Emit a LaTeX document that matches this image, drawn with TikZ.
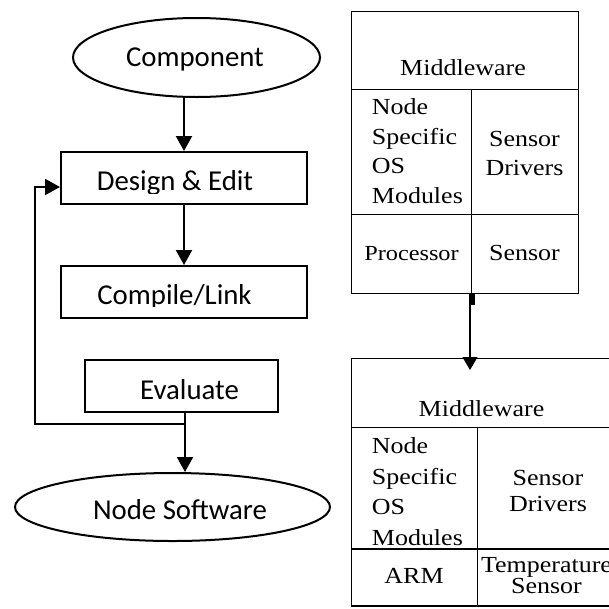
\documentclass[tikz,border=0pt]{standalone}
\usepackage{fontspec}
\newfontfamily\calfont{Carlito}
\newfontfamily\tmsfont{Liberation Serif}[FakeStretch=1.13]
\usetikzlibrary{shapes.geometric,arrows.meta,backgrounds}
\tikzset{
  flow/.style={draw, line width=2pt, inner sep=0pt, fill=white},
  boxnode/.style={flow, rectangle, minimum height=52pt},
  ellnode/.style={flow, ellipse},
  ftxt/.style={font=\calfont\fontsize{28.8}{34}\selectfont, inner sep=0pt, anchor=base},
  ttxt/.style={font=\tmsfont\fontsize{23}{29.5}\selectfont, inner sep=0pt},
  farrow/.style={line width=2pt, -{Triangle[length=15pt,width=16pt]}},
  rarrow/.style={line width=1.3pt, -{Triangle[length=13pt,width=15pt]}},
  cell/.style={draw, line width=1.3pt},
}
\begin{document}
\begin{tikzpicture}[x=1pt,y=-1pt]
\useasboundingbox (0,0) rectangle (609,608);
\clip (0,0) rectangle (609,608);
\fill[white] (0,0) rectangle (609,608);

% ---------- left flow ----------
\node[ellnode, minimum width=247pt, minimum height=79pt] (comp) at (196.5,57.5) {};
\node[ftxt] (compt) at (195,66.7) {Component};

\node[boxnode, minimum width=246pt] (design) at (184,178) {};
\begin{scope}
  \clip (61,152) rectangle (307,193.5);
  \node[ftxt] (designt) at (175,190) {Design \& Edit};
\end{scope}

\node[boxnode, minimum width=246pt] (compile) at (184,292) {};
\begin{scope}
  \clip (61,266) rectangle (307,306);
  \node[ftxt] (compilet) at (174.5,304.5) {Compile/Link};
\end{scope}

\node[boxnode, minimum width=193pt] (eval) at (181.5,386) {};
\node[ftxt] (evalt) at (189.5,399.3) {Evaluate};

\node[ellnode, minimum width=315pt, minimum height=68pt] (nsw) at (172.5,507) {};
\node[ftxt] (nswt) at (180,519) {Node Software};

\draw[farrow] (design.north |- comp.south) -- (design.north);
\draw[farrow] (design.south) -- (compile.north);
\coordinate (hid) at (184,372);
\begin{pgfonlayer}{background}
  \draw[farrow] (compile.south) -- (hid);
\end{pgfonlayer}
\coordinate (j) at (185,424);
\coordinate (fb) at (35,424);
\draw[line width=2pt] (eval.south -| j) -- (j);
\draw[farrow] (j) -- (fb) |- ([yshift=-9pt]design.west);
\draw[farrow] (j) -- (j |- nsw.north);

% ---------- upper stack ----------
\draw[cell] (351.7,11.7) rectangle (578.3,293.3);
\draw[cell] (351.7,89.3) -- (578.3,89.3);
\draw[cell] (351.7,214.3) -- (578.3,214.3);
\draw[cell] (471.7,89.3) -- (471.7,293.3);
\node[ttxt, anchor=base] (mw1) at (463,75) {Middleware};
\node[ttxt, anchor=base west, align=left] (os1) at (371.7,203.3) {Node\\Specific\\OS\\Modules};
\node[ttxt, font=\tmsfont\fontsize{23}{28.5}\selectfont, anchor=base, align=center] (sd1) at (524.5,175.2) {Sensor\\Drivers};
\node[ttxt, font=\tmsfont\fontsize{21.5}{26}\selectfont, anchor=base] (proc) at (411.5,260) {Processor};
\node[ttxt, anchor=base] (sen1) at (524.5,260) {Sensor};

% ---------- lower stack ----------
\draw[cell] (351.7,358.3) rectangle (615,606);
\draw[cell] (351.7,427.7) -- (615,427.7);
\draw[cell] (351.7,549) -- (615,549);
\draw[cell] (477.3,427.7) -- (477.3,606);
\node[ttxt, anchor=base] (mw2) at (481.5,416.7) {Middleware};
\node[ttxt, font=\tmsfont\fontsize{23}{30.5}\selectfont, anchor=base west, align=left] (os2) at (371.7,545) {Node\\Specific\\OS\\Modules};
\node[ttxt, font=\tmsfont\fontsize{23}{26.7}\selectfont, anchor=base, align=center] (sd2) at (548,511.7) {Sensor\\Drivers};
\node[ttxt, anchor=base] (arm) at (414,583.3) {ARM};
\node[ttxt, font=\tmsfont\fontsize{23}{17.3}\selectfont, anchor=base, align=center] (temp) at (546.5,593.3) {Temperature\\Sensor};

% ---------- connector between stacks ----------
\coordinate (us) at (471.5,293.3);
\coordinate (ue) at (471.5,305);
\draw[line width=6pt] (us) -- (ue);
\coordinate (as) at (470,305);
\coordinate (at) at (470,370);
\draw[rarrow] (as) -- (at);
\end{tikzpicture}
\end{document}
